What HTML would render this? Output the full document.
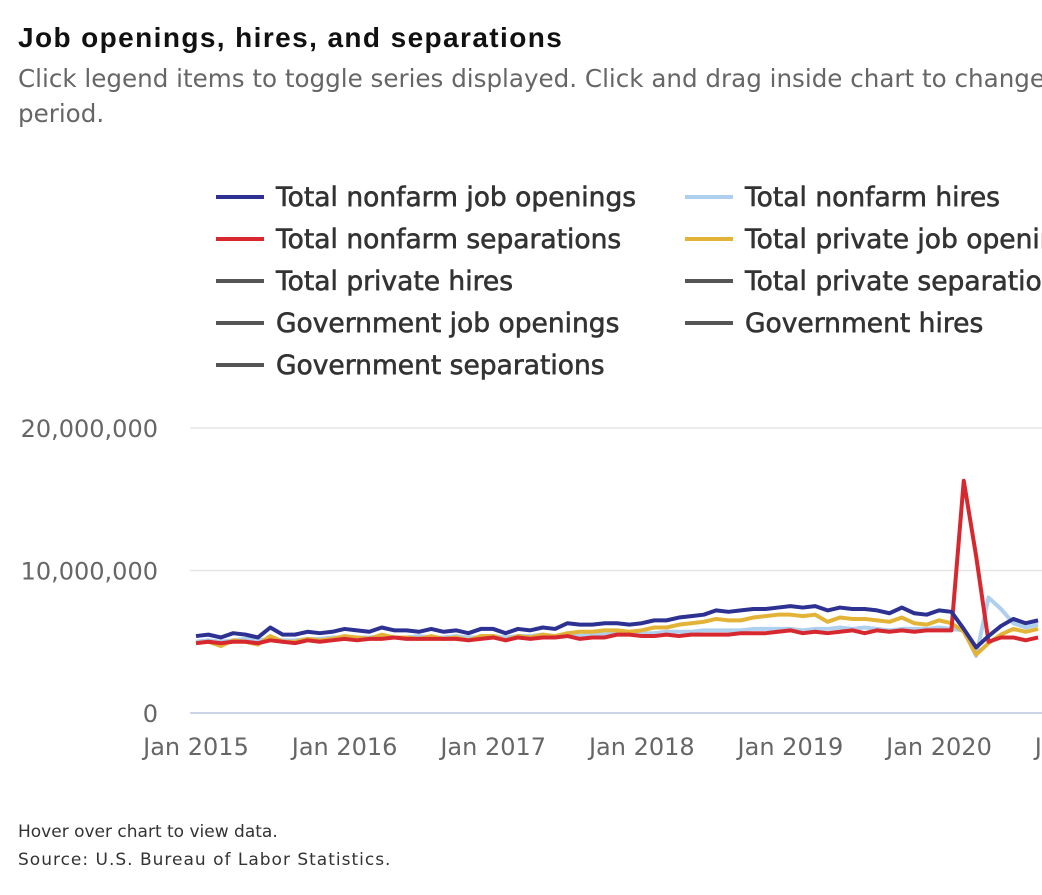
<!DOCTYPE html>
<html><head><meta charset="utf-8">
<style>
body{margin:0;width:1042px;height:895px;overflow:hidden;background:#fff;font-family:"DejaVu Sans",sans-serif;position:relative}
.t{position:absolute;white-space:nowrap}
</style></head><body>
<div class="t" style="left:18px;top:22px;font-family:'Liberation Sans',sans-serif;font-size:28px;letter-spacing:1.4px;font-weight:bold;color:#111">Job openings, hires, and separations</div>
<div class="t" style="left:18px;top:61px;font-size:24.6px;color:#666;line-height:35px">Click legend items to toggle series displayed. Click and drag inside chart to change<br>period.</div>
<svg id="c" width="1042" height="895" style="position:absolute;left:0;top:0"></svg>
<div class="t" style="left:18px;top:822px;font-size:17px;color:#333">Hover over chart to view data.</div>
<div class="t" style="left:18px;top:850px;font-size:17px;letter-spacing:1px;color:#333">Source: U.S. Bureau of Labor Statistics.</div>
<script>
const xTicks=["Jan 2015","Jan 2016","Jan 2017","Jan 2018","Jan 2019","Jan 2020","Jan 2021"];
const yTicks=[0,10000000,20000000];
const yTickLabels=["0","10,000,000","20,000,000"];
const openings=[5.4,5.5,5.3,5.6,5.5,5.3,6.0,5.5,5.5,5.7,5.6,5.7,5.9,5.8,5.7,6.0,5.8,5.8,5.7,5.9,5.7,5.8,5.6,5.9,5.9,5.6,5.9,5.8,6.0,5.9,6.3,6.2,6.2,6.3,6.3,6.2,6.3,6.5,6.5,6.7,6.8,6.9,7.2,7.1,7.2,7.3,7.3,7.4,7.5,7.4,7.5,7.2,7.4,7.3,7.3,7.2,7.0,7.4,7.0,6.9,7.2,7.1,5.9,4.6,5.4,6.1,6.6,6.3,6.5];
const hires=[5.0,5.1,5.0,5.1,5.2,5.1,5.2,5.1,5.1,5.2,5.2,5.3,5.3,5.3,5.3,5.4,5.3,5.3,5.4,5.3,5.3,5.4,5.3,5.3,5.4,5.3,5.4,5.4,5.5,5.4,5.5,5.4,5.5,5.5,5.6,5.6,5.6,5.6,5.7,5.7,5.7,5.8,5.8,5.8,5.8,5.9,5.9,5.9,5.9,5.8,5.9,5.9,6.0,5.9,6.0,5.9,5.8,5.9,5.9,5.9,6.0,5.9,5.8,4.0,8.1,7.3,6.3,6.0,6.2];
const separations=[4.9,5.0,4.9,5.0,5.0,4.9,5.1,5.0,4.9,5.1,5.0,5.1,5.2,5.1,5.2,5.2,5.3,5.2,5.2,5.2,5.2,5.2,5.1,5.2,5.3,5.1,5.3,5.2,5.3,5.3,5.4,5.2,5.3,5.3,5.5,5.5,5.4,5.4,5.5,5.4,5.5,5.5,5.5,5.5,5.6,5.6,5.6,5.7,5.8,5.6,5.7,5.6,5.7,5.8,5.6,5.8,5.7,5.8,5.7,5.8,5.8,5.8,16.3,11.0,5.0,5.3,5.3,5.1,5.3];
const privOpenings=[4.9,5.0,4.7,5.1,5.0,4.8,5.4,5.0,5.0,5.2,5.1,5.2,5.4,5.3,5.2,5.5,5.3,5.3,5.2,5.4,5.2,5.3,5.1,5.4,5.4,5.1,5.4,5.3,5.5,5.4,5.6,5.7,5.7,5.8,5.8,5.7,5.8,6.0,6.0,6.2,6.3,6.4,6.6,6.5,6.5,6.7,6.8,6.9,6.9,6.8,6.9,6.4,6.7,6.6,6.6,6.5,6.4,6.7,6.3,6.2,6.5,6.3,5.7,4.1,4.9,5.5,5.9,5.7,5.9];
const legendLabels=["Total nonfarm job openings","Total nonfarm hires","Total nonfarm separations","Total private job openings","Total private hires","Total private separations","Government job openings","Government hires","Government separations"];
const legendColors=["#2d3192","#aecfee","#d7282f","#e2b336","#555","#555","#555","#555","#555"];
const NS="http://www.w3.org/2000/svg",svg=document.getElementById('c');
function mk(t,a,p){const e=document.createElementNS(NS,t);for(const k in a)e.setAttribute(k,a[k]);(p||svg).appendChild(e);return e;}
const x=i=>196+i*148.6/12, y=v=>713-v*14.25e-6;
yTicks.forEach((v,i)=>{
 const g=mk('line',{x1:190,x2:1042,y1:y(v),y2:y(v),stroke:v===0?'#ccd6eb':'#e6e6e6','stroke-width':v===0?2:1.5});
 
 
 const t=mk('text',{x:158,y:y(v)+9,'text-anchor':'end','font-size':24,fill:'#666'});t.textContent=yTickLabels[i];
 
 
});
xTicks.forEach((s,i)=>{
 const t=mk('text',{x:x(i*12),y:755,'text-anchor':'middle','font-size':24,fill:'#666'});t.textContent=s;
 
 
});
[[hires,1],[privOpenings,3],[separations,2],[openings,0]].forEach(([d,c])=>{
 const p=mk('polyline',{points:d.map((v,i)=>x(i)+','+y(v*1e6)).join(' '),fill:'none',stroke:legendColors[c],'stroke-width':4,'stroke-linejoin':'round'});
 
 
});
legendLabels.forEach((s,i)=>{
 const lx=i%2?685:216, ly=197+Math.floor(i/2)*42;
 const g=mk('g',{});
 
 
 mk('line',{x1:lx,x2:lx+48,y1:ly,y2:ly,stroke:legendColors[i],'stroke-width':4},g);
 const t=mk('text',{x:lx+60,y:ly+9,'font-size':26.5,fill:'#333',stroke:'#333','stroke-width':0.6},g);t.textContent=s;
});
</script>
</body></html>
